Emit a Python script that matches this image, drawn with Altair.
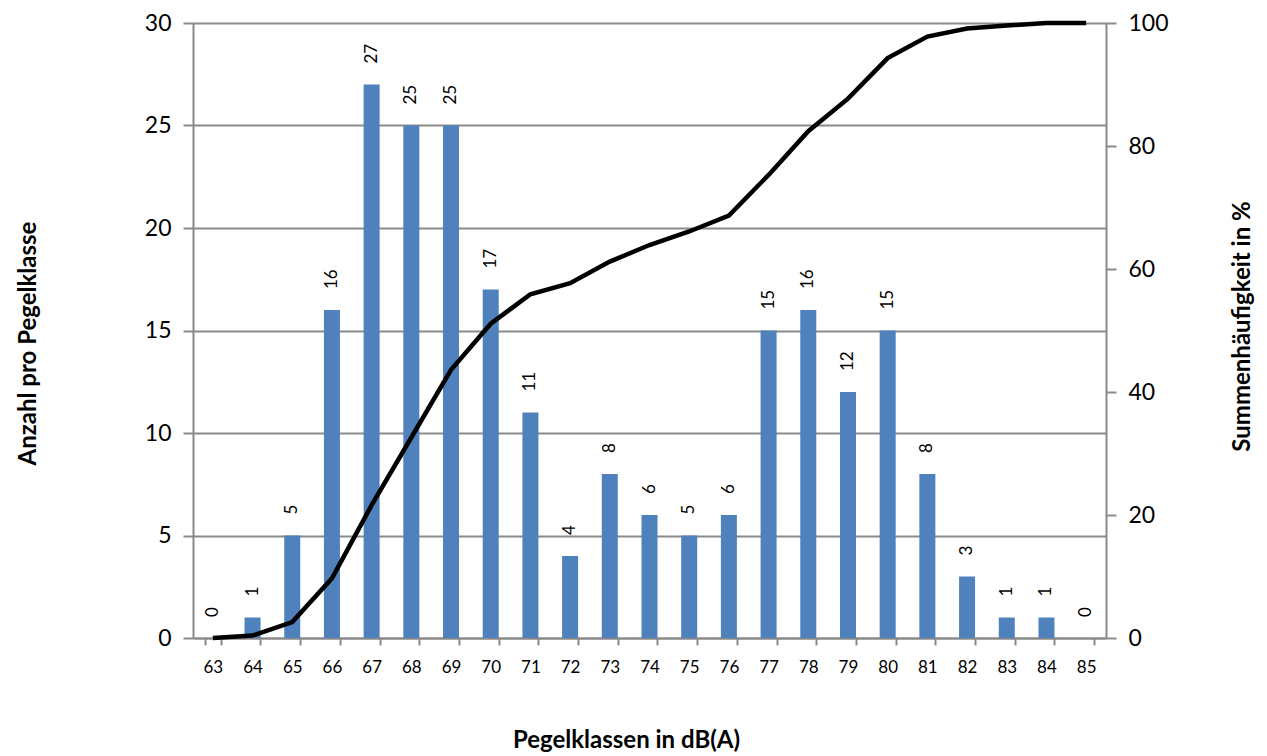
import altair as alt
import pandas as pd

klassen = ["63", "64", "65", "66", "67", "68", "69", "70", "71", "72", "73", "74",
           "75", "76", "77", "78", "79", "80", "81", "82", "83", "84", "85"]
anzahl = [0, 1, 5, 16, 27, 25, 25, 17, 11, 4, 8, 6, 5, 6, 15, 16, 12, 15, 8, 3, 1, 1, 0]
summe = [0, 0.4, 2.6, 9.7, 21.6, 32.6, 43.6, 51.1, 55.9, 57.7, 61.2, 63.9, 66.1, 68.7,
         75.3, 82.4, 87.7, 94.3, 97.8, 99.1, 99.6, 100, 100]

df = pd.DataFrame({"klasse": klassen, "anzahl": anzahl, "summe": summe})

FONT = "Lato"
GRAY = "#8a8a8a"

x = alt.X(
    "klasse:O",
    sort=klassen,
    scale=alt.Scale(paddingInner=0.6, paddingOuter=0.3),
    axis=alt.Axis(
        title="Pegelklassen in dB(A)",
        labelAngle=0,
        tickBand="extent",
        tickSize=7,
        tickColor=GRAY,
        tickWidth=2,
        domainColor=GRAY,
        domainWidth=2,
        labelPadding=14,
        labelFontSize=17,
        labelFont=FONT,
        labelColor="#000000",
        titleFont=FONT,
        titleFontSize=24,
        titleFontWeight="bold",
        titleColor="#000000",
        titleX=433,
        titleY=102,
        titleBaseline="middle",
        titleAnchor="middle",
        titleAlign="center",
    ),
)

y_left = alt.Y(
    "anzahl:Q",
    scale=alt.Scale(domain=[0, 30], nice=False),
    axis=alt.Axis(
        title="Anzahl pro Pegelklasse",
        values=[0, 5, 10, 15, 20, 25, 30],
        grid=True,
        gridColor=GRAY,
        gridWidth=2,
        tickSize=10,
        tickColor=GRAY,
        tickWidth=2,
        domainColor=GRAY,
        domainWidth=2,
        labelPadding=12,
        labelFontSize=23,
        labelFont=FONT,
        labelColor="#000000",
        titleFont=FONT,
        titleFontSize=24,
        titleFontWeight="bold",
        titleColor="#000000",
        titleAngle=270,
        titleX=-165,
        titleY=320,
        titleBaseline="middle",
        titleAlign="center",
    ),
)

bars = alt.Chart(df).mark_bar(color="#4f81bd", size=16).encode(x=x, y=y_left)

labels = alt.Chart(df).mark_text(
    angle=270, align="left", baseline="middle", dx=21,
    fontSize=17, font=FONT, color="#000000"
).encode(x=x, y=y_left, text="anzahl:Q")

line = alt.Chart(df).mark_line(color="#000000", strokeWidth=4.5).encode(
    x=x,
    y=alt.Y(
        "summe:Q",
        scale=alt.Scale(domain=[0, 100], nice=False),
        axis=alt.Axis(
            title="Summenhäufigkeit in %",
            orient="right",
            values=[0, 20, 40, 60, 80, 100],
            grid=False,
            tickSize=10,
            tickColor=GRAY,
            tickWidth=2,
            domainColor=GRAY,
            domainWidth=2,
            labelPadding=12,
            labelFontSize=23,
            labelFont=FONT,
            labelColor="#000000",
            titleFont=FONT,
            titleFontSize=24,
            titleFontWeight="bold",
            titleColor="#000000",
            titleAngle=270,
            titleX=136,
            titleY=303,
            titleBaseline="middle",
            titleAlign="center",
        ),
    ),
)

chart = (
    alt.layer(alt.layer(bars, labels), line)
    .resolve_scale(y="independent")
    .properties(
        width=913,
        height=615,
        autosize=alt.AutoSizeParams(type="none"),
        padding={"left": 185, "top": 15, "right": 150, "bottom": 116},
    )
    .configure_view(stroke=None)
)

chart.save("out.html", embed_options={"renderer": "svg", "actions": False})
